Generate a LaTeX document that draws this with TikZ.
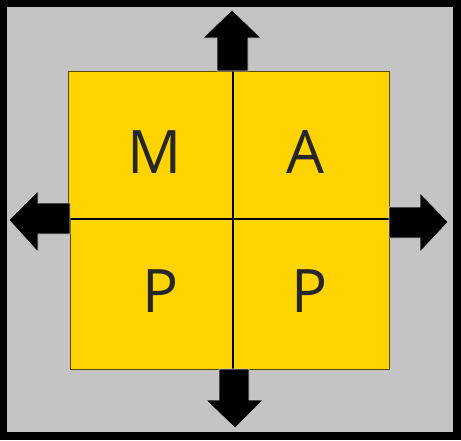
\documentclass[tikz,border=0pt]{standalone}
\usepackage{fontspec}
\setmainfont{Open Sans}
\usepackage{tikz}
\usetikzlibrary{calc,positioning}
\usepackage{xcolor}
\definecolor{mapgray}{RGB}{196,196,196}
\definecolor{mapyellow}{RGB}{255,212,0}
\definecolor{mapedge}{RGB}{90,74,0}
\definecolor{mapink}{RGB}{38,38,38}
\tikzset{
    quad/.style={fill=mapyellow, draw=mapedge, line width=1pt},
    letter/.style={text=mapink, font=\fontsize{60}{60}\selectfont, inner sep=0pt},
    blockarrow/.style={fill=black, draw=gray!40, line width=0.6pt, line join=miter}
}

\begin{document}
\begin{tikzpicture}[x=1pt, y=-1pt]
    \useasboundingbox (0,0) rectangle (461,440);
    % frame and background
    \fill[black] (0,0) rectangle (461,440);
    \fill[mapgray] (7,7) rectangle (453,432);

    % four yellow squares
    \foreach \x/\y/\u/\v in {68/71/233/219, 233/71/389/219, 70/219/233/369, 233/219/389/369} {
        \draw[quad] (\x,\y) rectangle (\u,\v);
    }
    \draw[black, line width=1.2pt] (233,71) -- (233,369);
    \draw[black, line width=1.2pt] (68,219) -- (389,219);

    % letters
    \node[letter] (m) at (155,152) {M};
    \node[letter] (a) at (305,152) {A};
    \node[letter] (p1) at (161,291) {P};
    \node[letter] (p2) at (310,291) {P};

    % arrows
    \draw[blockarrow] (217,71) -- (217,38) -- (203,38) -- (232,10) -- (261,38) -- (248,38) -- (248,71) -- cycle;
    \draw[blockarrow] (219,369) -- (219,400) -- (206,400) -- (235,428) -- (263,400) -- (249,400) -- (249,369) -- cycle;
    \draw[blockarrow] (70,203) -- (38,203) -- (38,191) -- (9,220) -- (38,252) -- (38,234) -- (70,234) -- cycle;
    \draw[blockarrow] (389,207) -- (420,207) -- (420,193) -- (448,222) -- (420,252) -- (420,238) -- (389,238) -- cycle;
\end{tikzpicture}
\end{document}
